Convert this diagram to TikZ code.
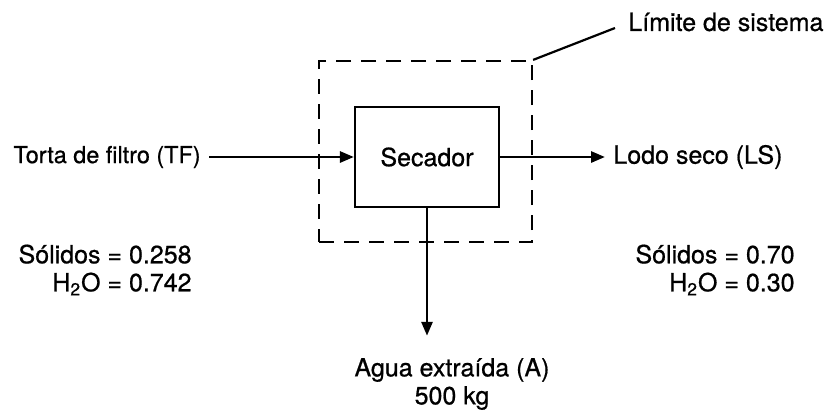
\documentclass[tikz,border=0pt]{standalone}
\usepackage{fontspec}
\setmainfont{TeX Gyre Heros}[FakeBold=0.7]
\usetikzlibrary{arrows.meta,positioning,calc}
\newcommand\lblfont{\fontsize{12.5}{14}\selectfont}
\tikzset{
  unit/.style={draw,line width=1.1pt,minimum width=72pt,minimum height=50pt,
    inner sep=0pt,font=\lblfont},
  limit/.style={draw,line width=1.1pt,dash pattern=on 7.5pt off 5pt,
    minimum width=106.5pt,minimum height=90.5pt,inner sep=0pt},
  plain/.style={inner sep=4pt,align=center,font=\lblfont},
  comp/.style={inner sep=0pt,align=right,font=\lblfont},
  flow/.style={-{Triangle[length=7pt,width=5.5pt]},line width=1.4pt},
  lead/.style={line width=1.1pt},
}
\begin{document}
\begin{tikzpicture}[x=0.5pt,y=-0.5pt]
  \useasboundingbox (0,0) rectangle (836,414);
  % unit and system boundary
  \node[unit](sec) at (427,157) {Secador};
  \node[limit](lim) at (425.5,151.5) {};
  \node[plain,anchor=west](lt) at (620,22) {Límite de sistema};
  \coordinate (lend) at (615,28);
  \draw[lead] (lim.north east) -- (lend);
  % streams
  \node[plain,anchor=east,font=\fontsize{11.7}{14}\selectfont](tf) at (209,157) {Torta de filtro (TF)};
  \node[plain,anchor=west](ls) at (605,157) {Lodo seco (LS)};
  \node[plain](agua) at (452,384) {Agua extraída (A)\\500 kg};
  \draw[flow] (tf.east) -- (tf.east -| sec.west);
  \draw[flow] (sec.east) -- (sec.east -| ls.west);
  \draw[flow,shorten >=7pt] (sec.south) -- (sec.south |- agua.north);
  % compositions
  \node[comp,anchor=east](ctf) at (192,270) {Sólidos = 0.258\\H\textsubscript{2}O = 0.742};
  \node[comp,anchor=east](cls) at (795,270) {Sólidos = 0.70\\H\textsubscript{2}O = 0.30};
\end{tikzpicture}
\end{document}
